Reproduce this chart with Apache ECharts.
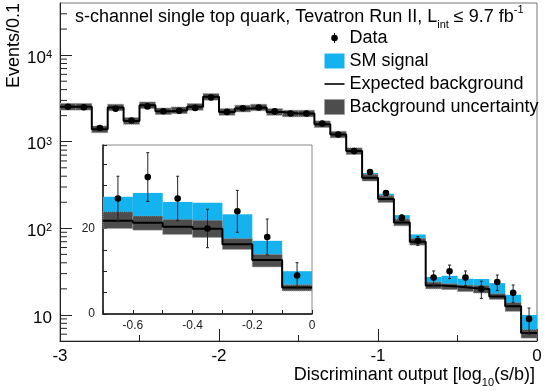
<!DOCTYPE html>
<html>
<head>
<meta charset="utf-8">
<script src="https://cdn.jsdelivr.net/npm/echarts@6/dist/echarts.min.js"></script>
<style>
  html, body { margin: 0; padding: 0; background: #fff; }
  #chart { width: 545px; height: 391px; }
</style>
</head>
<body>
<div id="chart"></div>
<script>
// bins of 0.1 in log10(s/b), from -3 to 0
const binStart = -3;
const binWidth = 0.1;
// expected background per bin
const background = [2540, 2540, 1390, 2490, 1740, 2640, 2250, 2310, 2530, 3300, 2210, 2420, 2490, 2210, 2120, 2120, 1595, 1213, 780, 385, 218, 117, 70, 21.8, 21.3, 20.4, 19.9, 16.3, 12.6, 6.2];
// background uncertainty band edges
const bkgUp = [2770, 2770, 1520, 2710, 1900, 2880, 2450, 2520, 2760, 3600, 2410, 2640, 2710, 2410, 2310, 2310, 1740, 1320, 850, 420, 238, 128, 76.5, 23.9, 22.9, 22.1, 21.9, 17.6, 13.9, 6.8];
const bkgDown = [2320, 2320, 1270, 2280, 1590, 2410, 2060, 2110, 2310, 3020, 2020, 2210, 2280, 2020, 1940, 1940, 1460, 1110, 713, 352, 199, 107, 64, 20.0, 19.6, 18.6, 17.9, 15.1, 11.0, 5.4];
// SM s-channel signal stacked on background
const signal = [1, 1, 1, 1, 1, 2, 2, 2, 2, 3, 3, 3, 4, 4, 5, 6, 7, 8, 10, 51, 33, 25, 15, 5.6, 7.0, 5.8, 6.1, 7.0, 4.5, 3.8];
// observed events and their errors
const observed = [2540, 2500, 1440, 2400, 1760, 2560, 2250, 2280, 2460, 3240, 2210, 2440, 2490, 2240, 2120, 2120, 1620, 1213, 780, 448, 256, 132, 72, 27, 32, 27, 20, 24, 18, 9];
const observedErr = [50, 50, 38, 49, 42, 51, 47, 48, 50, 57, 47, 49, 50, 47, 46, 46, 40, 35, 28, 21, 16, 11.5, 8.5, 5.2, 5.7, 5.2, 4.5, 4.9, 4.2, 3.0];
// minor ticks on the log axis
const logMinorTicks = [6, 7, 8, 9, 20, 30, 40, 50, 60, 70, 80, 90, 200, 300, 400, 500, 600, 700, 800, 900, 2000, 3000, 4000, 5000, 6000, 7000, 8000, 9000, 20000, 30000];
// inset shows the last bins, from -0.7
const insetFirstBin = 23;

const FONT = "'Liberation Sans', Arial, Helvetica, sans-serif";
const BLUE = "#14b2ee";
const BAND = "#4d4d4d";

const lo = (i) => +(binStart + i * binWidth).toFixed(2);
const hi = (i) => +(binStart + (i + 1) * binWidth).toFixed(2);

function binsFrom(first) {
  const idx = [];
  for (let i = first; i < background.length; i++) idx.push(i);
  return idx;
}

function rectItem(fill, stroke) {
  return function (params, api) {
    const p0 = api.coord([api.value(0), api.value(2)]);
    const p1 = api.coord([api.value(1), api.value(3)]);
    return {
      type: "rect",
      shape: { x: p0[0], y: p1[1], width: p1[0] - p0[0], height: p0[1] - p1[1] },
      style: stroke
        ? { fill: fill, stroke: stroke, lineWidth: 1, lineDash: [1, 1] }
        : { fill: fill },
    };
  };
}

function dataItem(params, api) {
  const x = api.value(0), y = api.value(1), e = api.value(2);
  const c = api.coord([x, y]);
  const top = api.coord([x, y + e]);
  const bot = api.coord([x, Math.max(y - e, 0.001)]);
  const ls = { stroke: "#222", lineWidth: 1 };
  return {
    type: "group",
    children: [
      { type: "line", shape: { x1: c[0], y1: top[1], x2: c[0], y2: bot[1] }, style: ls },
      { type: "line", shape: { x1: c[0] - 1.5, y1: top[1], x2: c[0] + 1.5, y2: top[1] }, style: ls },
      { type: "line", shape: { x1: c[0] - 1.5, y1: bot[1], x2: c[0] + 1.5, y2: bot[1] }, style: ls },
      { type: "circle", shape: { cx: c[0], cy: c[1], r: 3.3 }, style: { fill: "#000" } },
    ],
  };
}

function histSeries(first, axisIndex) {
  const idx = binsFrom(first);
  const stepData = idx.map((i) => [lo(i), background[i]]);
  const last = idx[idx.length - 1];
  stepData.push([hi(last), background[last]]);
  return [
    {
      name: "SM signal",
      type: "custom",
      xAxisIndex: axisIndex,
      yAxisIndex: axisIndex,
      renderItem: rectItem(BLUE),
      encode: { x: [0, 1], y: [2, 3] },
      data: idx.map((i) => [lo(i), hi(i), background[i], background[i] + signal[i]]),
      z: 2,
    },
    {
      name: "Background uncertainty",
      type: "custom",
      xAxisIndex: axisIndex,
      yAxisIndex: axisIndex,
      renderItem: rectItem(BAND, "#9a9a9a"),
      encode: { x: [0, 1], y: [2, 3] },
      data: idx.map((i) => [lo(i), hi(i), bkgDown[i], bkgUp[i]]),
      z: 3,
    },
    {
      name: "Expected background",
      type: "line",
      xAxisIndex: axisIndex,
      yAxisIndex: axisIndex,
      step: "end",
      symbol: "none",
      lineStyle: { color: "#000", width: 2 },
      itemStyle: { color: "#000" },
      data: stepData,
      z: 4,
    },
    {
      name: "Data",
      type: "custom",
      xAxisIndex: axisIndex,
      yAxisIndex: axisIndex,
      renderItem: dataItem,
      encode: { x: 0, y: 1 },
      data: idx.map((i) => [+(lo(i) + binWidth / 2).toFixed(2), observed[i], observedErr[i]]),
      z: 5,
    },
  ];
}

const chart = echarts.init(document.getElementById("chart"));
chart.setOption({
  animation: false,
  backgroundColor: "#fff",
  textStyle: { fontFamily: FONT },
  title: {
    left: 75,
    top: 4,
    padding: 0,
    text: "s-channel single top quark, Tevatron Run II, L{sub|int} ≤ 9.7 fb{sup|-1}",
    textStyle: {
      fontFamily: FONT,
      fontSize: 18,
      fontWeight: "normal",
      color: "#000",
      lineHeight: 26,
      rich: {
        sub: { fontSize: 11, lineHeight: 11, verticalAlign: "bottom", fontFamily: FONT },
        sup: { fontSize: 11, lineHeight: 11, verticalAlign: "top", fontFamily: FONT },
      },
    },
  },
  legend: {
    orient: "vertical",
    left: 324,
    top: 29,
    padding: 0,
    itemWidth: 20,
    itemHeight: 15,
    itemGap: 5,
    selectedMode: false,
    textStyle: { fontFamily: FONT, fontSize: 18, color: "#000" },
    data: [
      {
        name: "Data",
        icon: "path://M0,0M20,15M6.7,7.5a3.3,3.3 0 1,0 6.6,0a3.3,3.3 0 1,0 -6.6,0ZM9.5,2.5h1v1.8h-1ZM9.5,10.7h1v1.8h-1Z",
        itemStyle: { color: "#000" },
      },
      { name: "SM signal", icon: "rect", itemStyle: { color: BLUE } },
      {
        name: "Expected background",
        icon: "path://M0,0M20,15M0,6.7h20v1.6H0Z",
        itemStyle: { color: "#000" },
      },
      {
        name: "Background uncertainty",
        icon: "rect",
        itemStyle: { color: BAND, borderColor: "#9a9a9a", borderWidth: 1, borderType: "dotted" },
      },
    ],
  },
  graphic: [
    {
      type: "text",
      left: 5,
      top: 3,
      rotation: Math.PI / 2,
      style: {
        text: "Events/0.1",
        fontFamily: FONT,
        fontSize: 18,
        fill: "#000",
        align: "right",
        verticalAlign: "top",
      },
    },
    {
      type: "text",
      right: 10,
      top: 362,
      style: {
        text: "Discriminant output [log{sub|10}(s/b)]",
        fontFamily: FONT,
        fontSize: 18,
        fill: "#000",
        rich: { sub: { fontSize: 11, verticalAlign: "bottom", lineHeight: 11, fontFamily: FONT } },
        lineHeight: 26,
      },
    },
  ],
  grid: [
    { left: 60, right: 8, top: 3, bottom: 50, show: true, borderColor: "#777", borderWidth: 1, containLabel: false, outerBoundsMode: "none" },
    { left: 103, right: 233, top: 145, bottom: 77, show: true, borderColor: "#888", borderWidth: 1, backgroundColor: "#fff", z: 5, containLabel: false, outerBoundsMode: "none" },
  ],
  xAxis: [
    {
      gridIndex: 0,
      type: "value",
      min: -3,
      max: 0,
      interval: 1,
      axisLine: { show: true, onZero: false, lineStyle: { color: "#222", width: 1 } },
      axisTick: { show: true, inside: true, length: 12, lineStyle: { color: "#222" } },
      minorTick: { show: true, splitNumber: 2, length: 6, lineStyle: { color: "#222" } },
      splitLine: { show: false },
      axisLabel: { fontFamily: FONT, fontSize: 17, color: "#000", margin: 7 },
    },
    {
      gridIndex: 1,
      type: "value",
      min: -0.7,
      max: 0,
      interval: 0.1,
      axisLine: { show: true, onZero: false, lineStyle: { color: "#111", width: 1.5 } },
      axisTick: { show: true, inside: true, length: 4, lineStyle: { color: "#222" } },
      splitLine: { show: false },
      axisLabel: {
        fontFamily: FONT,
        fontSize: 12,
        color: "#222",
        margin: 6,
        formatter: (v) => {
          const r = Math.round(v * 10);
          if (r % 2 !== 0) return "";
          return r === 0 ? "0" : (r / 10).toFixed(1);
        },
      },
      z: 6,
    },
  ],
  yAxis: [
    {
      gridIndex: 0,
      type: "log",
      logBase: 10,
      min: 5,
      max: 40000,
      axisLine: { show: true, onZero: false, lineStyle: { color: "#222", width: 1 } },
      axisTick: { show: true, inside: true, length: 12, lineStyle: { color: "#222", width: 1 } },
      splitLine: { show: false },
      axisLabel: {
        fontFamily: FONT,
        fontSize: 17,
        color: "#000",
        margin: 8,
        showMinLabel: false,
        showMaxLabel: false,
        padding: [6, 0, 0, 0],
        formatter: (v) => {
          const p = Math.round(Math.log10(v));
          if (Math.abs(Math.log10(v) - p) > 0.01) return "";
          return p === 1 ? "10" : "10{sup|" + p + "}";
        },
        rich: { sup: { fontSize: 11, verticalAlign: "top", lineHeight: 11, fontFamily: FONT } },
      },
    },
    {
      gridIndex: 1,
      type: "value",
      min: 0,
      max: 39.5,
      interval: 5,
      axisLine: { show: true, onZero: false, lineStyle: { color: "#111", width: 1.5 } },
      axisTick: { show: true, inside: true, length: 4, lineStyle: { color: "#222" } },
      splitLine: { show: false },
      axisLabel: {
        fontFamily: FONT,
        fontSize: 12,
        color: "#222",
        margin: 8,
        formatter: (v) => (v === 0 || v === 20 ? String(v) : ""),
      },
      z: 6,
    },
  ],
  series: [
    ...histSeries(0, 0),
    {
      name: "minor ticks",
      type: "custom",
      xAxisIndex: 0,
      yAxisIndex: 0,
      encode: { x: 0, y: 1 },
      data: logMinorTicks.map((v) => [-3, v]),
      renderItem: (params, api) => {
        const p = api.coord([api.value(0), api.value(1)]);
        return {
          type: "line",
          shape: { x1: p[0], y1: p[1], x2: p[0] + 7, y2: p[1] },
          style: { stroke: "#222", lineWidth: 1 },
        };
      },
      z: 6,
    },
    ...histSeries(insetFirstBin, 1).map((s) => Object.assign(s, { z: s.z + 6 })),
  ],
});
</script>
</body>
</html>
